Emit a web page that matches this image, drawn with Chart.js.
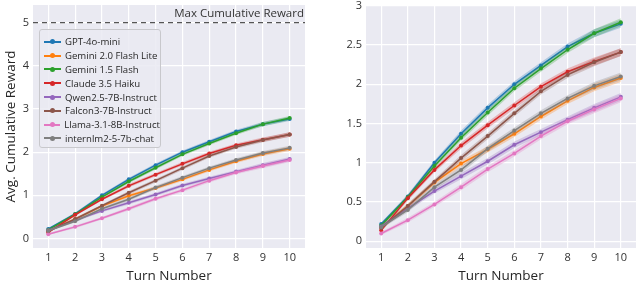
<!DOCTYPE html>
<html>
<head>
<meta charset="utf-8">
<script src="https://cdn.jsdelivr.net/npm/chart.js@4.4.1/dist/chart.umd.min.js"></script>
<style>
  body { margin: 0; width: 640px; height: 284px; background: #fff; position: relative; overflow: hidden; font-family: "Open Sans", sans-serif; }
  .panel { position: absolute; top: 0; width: 320px; height: 284px; }
  #legend { position: absolute; left: 39px; top: 29px; width: 122px; height: 119px; box-sizing: border-box;
    background: rgba(234,234,242,0.85); border: 1px solid #c8c8cc; border-radius: 3px; padding: 5px 0 0 4px; }
  .item { height: 13.8px; display: flex; align-items: center; font-size: 9.6px; color: #262626; white-space: nowrap; }
  .swatch { position: relative; width: 17px; height: 2px; margin-right: 4px; }
  .swatch i { position: absolute; left: 6px; top: -1.5px; width: 5px; height: 5px; border-radius: 50%; }
</style>
</head>
<body>
<div class="panel" style="left:0"><canvas id="left" width="320" height="284"></canvas></div>
<div class="panel" style="left:320px"><canvas id="right" width="320" height="284"></canvas></div>
<div id="legend"></div>
<script>
// turns on the x axis
var turns = [1, 2, 3, 4, 5, 6, 7, 8, 9, 10];

var models = ['GPT-4o-mini', 'Gemini 2.0 Flash Lite', 'Gemini 1.5 Flash', 'Claude 3.5 Haiku',
              'Qwen2.5-7B-Instruct', 'Falcon3-7B-Instruct', 'Llama-3.1-8B-Instruct', 'internlm2-5-7b-chat'];
var colors = ['#1f77b4', '#ff7f0e', '#2ca02c', '#d62728', '#9467bd', '#8c564b', '#e377c2', '#7f7f7f'];

// average cumulative reward per turn
var gpt4oMini   = [0.22, 0.57, 1.00, 1.37, 1.70, 2.00, 2.24, 2.48, 2.65, 2.77];
var geminiLite  = [0.18, 0.45, 0.75, 0.99, 1.17, 1.37, 1.59, 1.79, 1.96, 2.08];
var gemini15    = [0.20, 0.56, 0.96, 1.32, 1.64, 1.95, 2.20, 2.44, 2.65, 2.79];
var claudeHaiku = [0.14, 0.55, 0.91, 1.22, 1.48, 1.73, 1.97, 2.16, 2.29, 2.41];
var qwen        = [0.19, 0.42, 0.64, 0.83, 1.02, 1.23, 1.39, 1.55, 1.70, 1.84];
var falcon      = [0.17, 0.45, 0.76, 1.06, 1.34, 1.63, 1.91, 2.12, 2.28, 2.41];
var llama       = [0.10, 0.27, 0.47, 0.69, 0.92, 1.12, 1.34, 1.53, 1.68, 1.82];
var internlm    = [0.18, 0.40, 0.69, 0.91, 1.18, 1.41, 1.63, 1.82, 1.98, 2.10];
var series = [gpt4oMini, geminiLite, gemini15, claudeHaiku, qwen, falcon, llama, internlm];

// half width of the shaded band
var bandWidth = [0.02, 0.03, 0.03, 0.04, 0.04, 0.04, 0.04, 0.04, 0.05, 0.05];

var leftYTicks = [0, 1, 2, 3, 4, 5];
var rightYTicks = [0, 0.5, 1, 1.5, 2, 2.5, 3];
var maxReward = 5;

function alpha(hex, a) {
    var n = parseInt(hex.slice(1), 16);
    return 'rgba(' + (n >> 16) + ',' + ((n >> 8) & 255) + ',' + (n & 255) + ',' + a + ')';
}

function buildDatasets() {
    var ds = [];
    series.forEach(function(vals, i) {
        var ord = series.length - i;
        ds.push({ data: turns.map(function(t, k) { return { x: t, y: vals[k] + bandWidth[k] }; }),
                  borderWidth: 0, pointRadius: 0, fill: false, order: ord + 0.5 });
        ds.push({ data: turns.map(function(t, k) { return { x: t, y: vals[k] - bandWidth[k] }; }),
                  borderWidth: 0, pointRadius: 0, fill: '-1', backgroundColor: alpha(colors[i], 0.28), order: ord + 0.5 });
        ds.push({ label: models[i], data: turns.map(function(t, k) { return { x: t, y: vals[k] }; }),
                  borderColor: colors[i], backgroundColor: colors[i], borderWidth: 1.5,
                  pointRadius: 2, pointBorderWidth: 0, fill: false, order: ord });
    });
    return ds;
}

var bgPlugin = {
    id: 'bg',
    beforeDraw: function(chart) {
        var a = chart.chartArea, c = chart.ctx;
        c.save();
        c.fillStyle = '#eaeaf2';
        c.fillRect(a.left, a.top, a.right - a.left, a.bottom - a.top);
        c.restore();
    }
};

var maxLinePlugin = {
    id: 'maxLine',
    afterDraw: function(chart) {
        if (chart.canvas.id !== 'left') return;
        var a = chart.chartArea, c = chart.ctx;
        var y = chart.scales.y.getPixelForValue(maxReward);
        c.save();
        c.strokeStyle = '#555';
        c.lineWidth = 1.2;
        c.setLineDash([5, 4]);
        c.beginPath();
        c.moveTo(a.left, y);
        c.lineTo(a.right, y);
        c.stroke();
        c.setLineDash([]);
        c.fillStyle = '#333';
        c.font = '11.5px "Open Sans"';
        c.textAlign = 'right';
        c.textBaseline = 'middle';
        c.fillText('Max Cumulative Reward', a.right - 1, y - 9);
        c.restore();
    }
};

function makeChart(id, yMin, yMax, yTicks, yWidth, padRight, yTitle) {
    var ctx = document.getElementById(id).getContext('2d');
    return new Chart(ctx, {
        type: 'line',
        data: { datasets: buildDatasets() },
        options: {
            responsive: false,
            animation: false,
            devicePixelRatio: 1,
            layout: { padding: { top: 5, right: padRight, left: 0, bottom: 0 } },
            plugins: { legend: { display: false }, tooltip: { enabled: false } },
            scales: {
                x: {
                    type: 'linear', min: 0.43, max: 10.57,
                    afterBuildTicks: function(s) { s.ticks = turns.map(function(v) { return { value: v }; }); },
                    afterFit: function(s) { s.height = 36; s.paddingLeft = 0; s.paddingRight = 0; },
                    grid: { color: '#ffffff', lineWidth: 1.2, drawTicks: false },
                    border: { display: false },
                    ticks: { color: '#333', font: { family: 'Open Sans', size: 11 }, padding: 3,
                             callback: function(v) { return String(v); } },
                    title: { display: true, text: 'Turn Number', color: '#262626',
                             font: { family: 'Open Sans', size: 13.5 }, padding: { top: 0, bottom: 0 } }
                },
                y: {
                    min: yMin, max: yMax,
                    afterBuildTicks: function(s) { s.ticks = yTicks.map(function(v) { return { value: v }; }); },
                    afterFit: function(s) { s.width = yWidth; s.paddingTop = 0; s.paddingBottom = 0; },
                    grid: { color: '#ffffff', lineWidth: 1.2, drawTicks: false },
                    border: { display: false },
                    ticks: { color: '#333', font: { family: 'Open Sans', size: 11 }, padding: 4,
                             callback: function(v) { return String(v); } },
                    title: { display: !!yTitle, text: yTitle || '', color: '#262626',
                             font: { family: 'Open Sans', size: 13.5 }, padding: { top: 3, bottom: 0 } }
                }
            }
        },
        plugins: [bgPlugin, maxLinePlugin]
    });
}

makeChart('left', -0.22, 5.41, leftYTicks, 33, 15, 'Avg. Cumulative Reward');
makeChart('right', -0.085, 3.01, rightYTicks, 46, 2, null);

// legend inside the left panel
var legend = document.getElementById('legend');
models.forEach(function(m, i) {
    var row = document.createElement('div');
    row.className = 'item';
    row.innerHTML = '<span class="swatch" style="background:' + colors[i] + '"><i style="background:' + colors[i] + '"></i></span>' + m;
    legend.appendChild(row);
});
</script>
</body>
</html>
